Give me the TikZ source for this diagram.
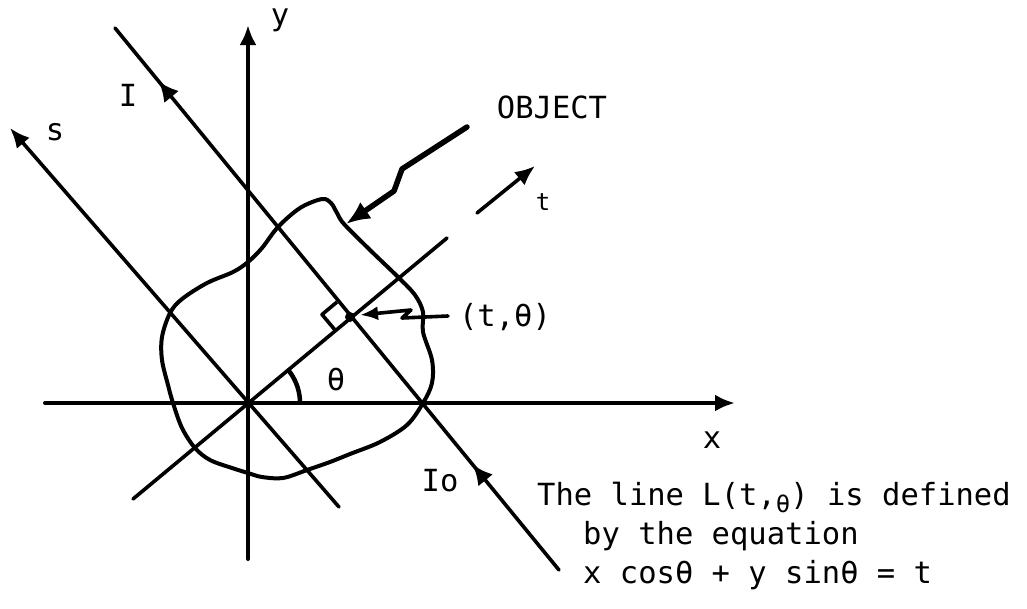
\documentclass[tikz,border=0pt]{standalone}
\usepackage{fontspec}
\newfontfamily\twfont{DejaVu Sans Mono}
\usetikzlibrary{arrows.meta,decorations.markings}
\begin{document}
\begin{tikzpicture}[x=1pt,y=-1pt,
  ln/.style={line width=3.6pt, line cap=round},
  tipr/.style={-{Latex[length=20pt,width=17pt]}},
  lbl/.style={font=\twfont\fontsize{30.5}{36}\selectfont, inner sep=0pt},
  sublbl/.style={font=\twfont\fontsize{24}{28}\selectfont, inner sep=0pt}]
\useasboundingbox (0,0) rectangle (1027,608);
\fill[white] (0,0) rectangle (1027,608);
% coordinates
\coordinate (O) at (248,403);
\coordinate (Ytop) at (248,25);  \coordinate (Ybot) at (248,559);
\coordinate (Xl) at (45,403);    \coordinate (Xr) at (735,403);
\coordinate (Stip) at (10,128);  \coordinate (Send) at (339,507);
\coordinate (Tlow) at (133,499); \coordinate (Tg1) at (447,238);
\coordinate (Tg2) at (477,213);  \coordinate (Ttip) at (535,166);
\coordinate (Itop) at (115,28);  \coordinate (Ibot) at (559,570);
\coordinate (P) at (350,317);
\coordinate (ra1) at (337,302); \coordinate (ra2) at (322,314.5); \coordinate (ra3) at (335,330);
% object outline
\draw[line width=4pt, line join=round] plot[smooth cycle, tension=0.55] coordinates {
 (248,262) (262,248) (278,227) (300,208) (322,199) (331,203) (337,213) (344,224)
 (370,250) (398,277) (415,295) (423,312) (423,332) (432,360) (432,383) (423,403)
 (407,425) (380,442) (350,454) (330,462) (307,470) (283,478) (262,477) (248,473)
 (232,468) (210,460) (195,448) (182,428) (173,403) (168,385) (162,360) (162,337)
 (170,313) (182,299) (207,283) (233,272)};
% axes
\draw[ln, line width=4pt, tipr] (Ybot) -- (Ytop);
\draw[ln, line width=4pt, tipr] (Xl) -- (Xr);
% s and t axes
\draw[ln, tipr] (Send) -- (Stip);
\draw[ln] (Tlow) -- (Tg1);
\draw[ln, tipr] (Tg2) -- (Ttip);
% line I
\draw[ln, postaction=decorate, decoration={markings,
   mark=at position 0.0985 with {\arrowreversed{Latex[length=20pt,width=19pt]}},
   mark=at position 0.806 with {\arrowreversed{Latex[length=20pt,width=19pt]}}}]
   (Itop) -- (Ibot);
% right angle
\draw[line width=3.6pt, line join=round] (ra1) -- (ra2) -- (ra3);
\fill (P) circle (5pt);
% angle theta
\draw[line width=4.5pt] plot[domain=0:40, samples=20] ({248+52*cos(\x)},{403-52*sin(\x)});
% OBJECT arrow
\coordinate (ob1) at (467,127); \coordinate (ob2) at (402,169);
\coordinate (ob3) at (394,191); \coordinate (ob4) at (346,224);
\draw[line width=5.5pt, line join=round, line cap=round,
      -{Latex[length=24pt,width=20pt]}] (ob1) -- (ob2) -- (ob3) -- (ob4);
% (t,theta) arrow
\coordinate (pt1) at (448,316); \coordinate (pt2) at (402,318);
\coordinate (pt3) at (411,310); \coordinate (pt4) at (360,315);
\draw[line width=3.6pt, line join=round, line cap=round,
      -{Latex[length=18pt,width=14pt]}] (pt1) -- (pt2) -- (pt3) -- (pt4);
% labels
\node[lbl] (ylab) at (280,20) {y};
\node[lbl] (xlab) at (712,440) {x};
\node[lbl] (slab) at (55,132) {s};
\node[lbl] (Ilab) at (128,95) {I};
\node[sublbl] (tlab) at (543,202) {t};
\node[lbl] (objlab) at (552,107) {OBJECT};
\node[lbl] (ptlab) at (505,317) {(t,θ)};
\node[lbl] (thlab) at (336,380) {θ};
\node[lbl] (Iolab) at (440,481) {Io};
\node[lbl, anchor=west] (tx1) at (537,497) {The line L(t,\raisebox{-7pt}{\fontsize{24}{24}\selectfont θ}) is defined};
\node[lbl, anchor=west] (tx2) at (583,536) {by the equation};
\node[lbl, anchor=west] (tx3) at (583,575) {x cosθ + y sinθ = t};
\end{tikzpicture}
\end{document}
